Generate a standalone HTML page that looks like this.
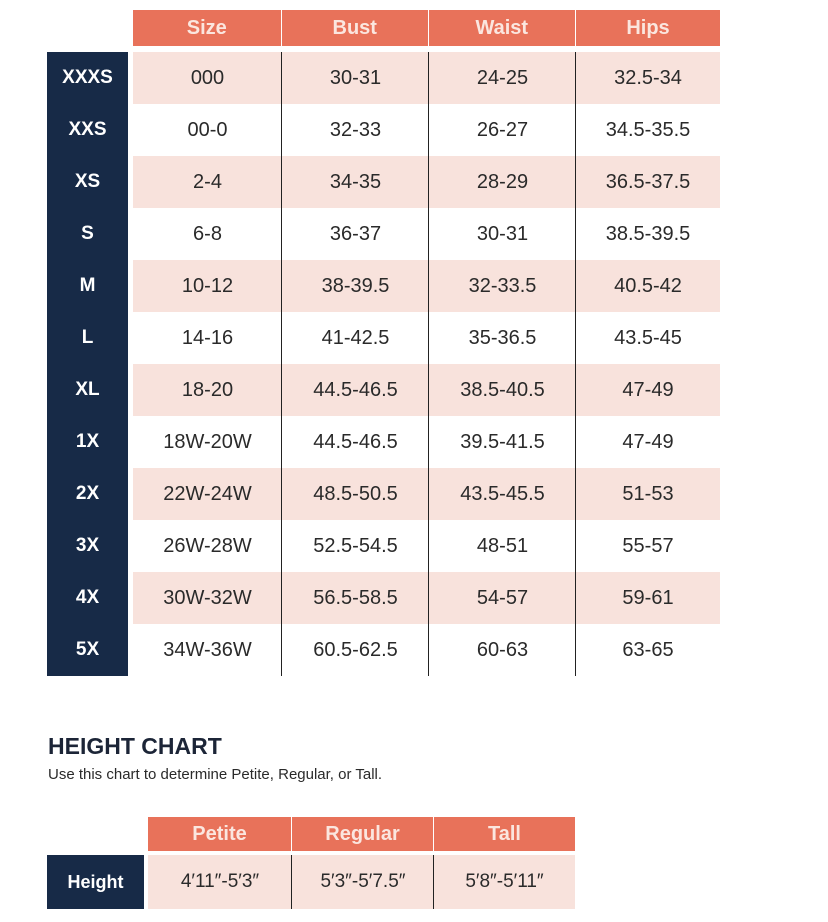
<!DOCTYPE html>
<html><head><meta charset="utf-8"><style>
body{margin:0;width:828px;height:922px;background:#fff;position:relative;font-family:"Liberation Sans",sans-serif;overflow:hidden}
.a{position:absolute;box-sizing:border-box;display:flex;align-items:center;justify-content:center}
.h{background:#e8725a;color:#fbe6df;font-size:20px;font-weight:bold}
.n{background:#172a47;color:#fff;font-weight:bold;font-size:19px}
.c{color:#2a2a2a;font-size:20px}
.p{background:#f8e2dc}
.v{position:absolute;width:1px;background:#222}
</style></head><body>
<div class="a n" style="left:47px;top:52px;width:81px;height:624px"></div>
<div id="t"></div>
<script>
var hdr=["Size","Bust","Waist","Hips"],xs=[133,282,429,576,720];
var rows=[["XXXS","000","30-31","24-25","32.5-34"],["XXS","00-0","32-33","26-27","34.5-35.5"],["XS","2-4","34-35","28-29","36.5-37.5"],["S","6-8","36-37","30-31","38.5-39.5"],["M","10-12","38-39.5","32-33.5","40.5-42"],["L","14-16","41-42.5","35-36.5","43.5-45"],["XL","18-20","44.5-46.5","38.5-40.5","47-49"],["1X","18W-20W","44.5-46.5","39.5-41.5","47-49"],["2X","22W-24W","48.5-50.5","43.5-45.5","51-53"],["3X","26W-28W","52.5-54.5","48-51","55-57"],["4X","30W-32W","56.5-58.5","54-57","59-61"],["5X","34W-36W","60.5-62.5","60-63","63-65"]];
var h="";
for(var i=0;i<4;i++)h+='<div class="a h" style="left:'+xs[i]+'px;top:10px;width:'+(xs[i+1]-xs[i]-(i<3?1.5:0))+'px;height:36px">'+hdr[i]+'</div>';
rows.forEach(function(r,j){var y=52+j*52;
if(j%2==0)h+='<div class="a p" style="left:133px;top:'+y+'px;width:587px;height:52px"></div>';
h+='<div class="a n" style="left:47px;top:'+y+'px;width:81px;height:52px;background:none">'+r[0]+'</div>';
for(var i=0;i<4;i++)h+='<div class="a c" style="left:'+xs[i]+'px;top:'+y+'px;width:'+(xs[i+1]-xs[i])+'px;height:52px">'+r[i+1]+'</div>';});
for(var i=1;i<4;i++)h+='<div class="v" style="left:'+(xs[i]-1)+'px;top:52px;height:624px"></div>';
document.getElementById("t").innerHTML=h;
</script>
<div style="position:absolute;left:48px;top:733px;font-size:23px;font-weight:bold;color:#1c2537">HEIGHT CHART</div>
<div style="position:absolute;left:48px;top:766px;font-size:15px;color:#2a2a2a">Use this chart to determine Petite, Regular, or Tall.</div>
<div class="a h" style="left:148px;top:817px;width:143px;height:34px">Petite</div>
<div class="a h" style="left:292px;top:817px;width:141px;height:34px">Regular</div>
<div class="a h" style="left:434px;top:817px;width:141px;height:34px">Tall</div>
<div class="a n" style="left:47px;top:855px;width:97px;height:54px;font-size:18px">Height</div>
<div class="a p c" style="left:148px;top:855px;width:144px;height:54px;font-size:19px">4′11″-5′3″</div>
<div class="a p c" style="left:292px;top:855px;width:142px;height:54px;font-size:19px">5′3″-5′7.5″</div>
<div class="a p c" style="left:434px;top:855px;width:141px;height:54px;font-size:19px">5′8″-5′11″</div>
<div class="v" style="left:291px;top:855px;height:54px"></div>
<div class="v" style="left:433px;top:855px;height:54px"></div>
</body></html>
